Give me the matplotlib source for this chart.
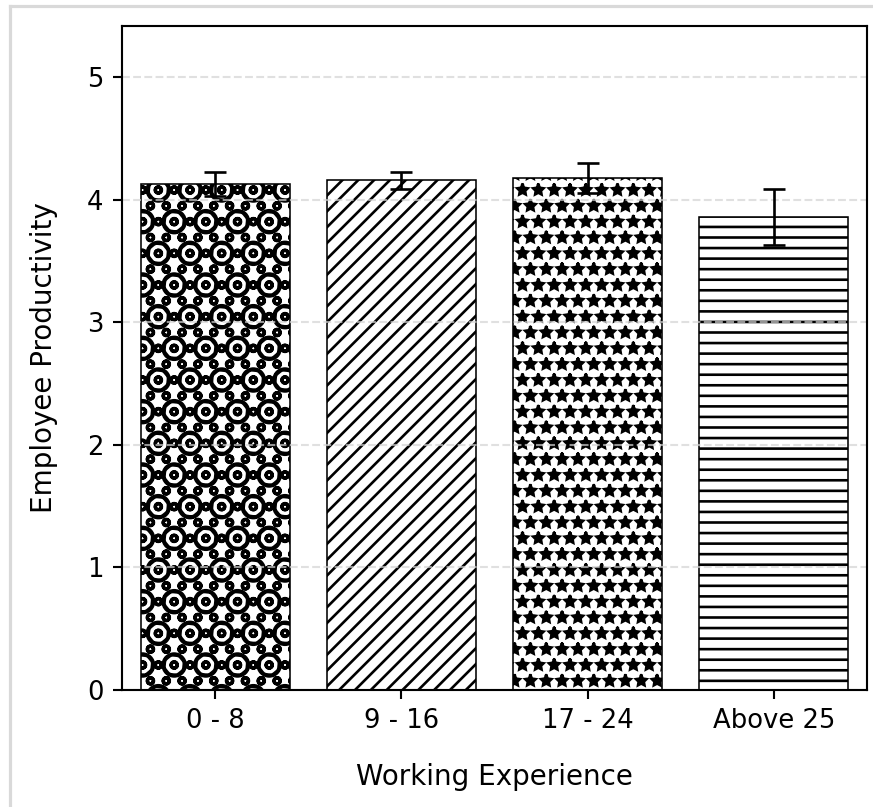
import matplotlib
matplotlib.use("Agg")
import matplotlib.pyplot as plt
from matplotlib.lines import Line2D

# Data
groups = ["0 - 8", "9 - 16", "17 - 24", "Above 25"]
productivity = [4.13, 4.16, 4.18, 3.86]
errors = [0.10, 0.07, 0.125, 0.23]
hatches = ["Ooo", "////", "**", "---"]
hatch_widths = [1.25, 1.0, 1.05, 1.0]

plt.rcParams["hatch.linewidth"] = 1.0

fig = plt.figure(figsize=(873 / 190, 807 / 190), dpi=190)
ax = fig.add_axes([0.1397, 0.145, 0.8534, 0.8228])

x = range(len(groups))
bars = ax.bar(x, productivity, width=0.8, color="white", edgecolor="black",
              linewidth=0.6, yerr=errors, capsize=4,
              error_kw=dict(ecolor="black", elinewidth=1.0, capthick=1.0))
for bar, h, hw in zip(bars, hatches, hatch_widths):
    bar.set_hatch(h)
    if hasattr(bar, "set_hatch_linewidth"):
        bar.set_hatch_linewidth(hw)

ax.set_xlim(-0.5, 3.5)
ax.set_ylim(0, 5.42)
ax.set_xticks(list(x))
ax.set_xticklabels(groups)
ax.tick_params(labelsize=9.8)
ax.set_xlabel("Working Experience", fontsize=10.5, labelpad=11)
ax.set_ylabel("Employee Productivity", fontsize=10.5, labelpad=11)
ax.yaxis.grid(True, linestyle="--", color="lightgray", alpha=0.7)

# light notebook-style frame around the figure
fig.add_artist(Line2D([0.011, 0.011], [0, 0.992], transform=fig.transFigure,
                      color="#d9d9d9", linewidth=1.2))
fig.add_artist(Line2D([0.011, 1.0], [0.992, 0.992], transform=fig.transFigure,
                      color="#d9d9d9", linewidth=1.2))

fig.savefig("out.png", dpi=190)
